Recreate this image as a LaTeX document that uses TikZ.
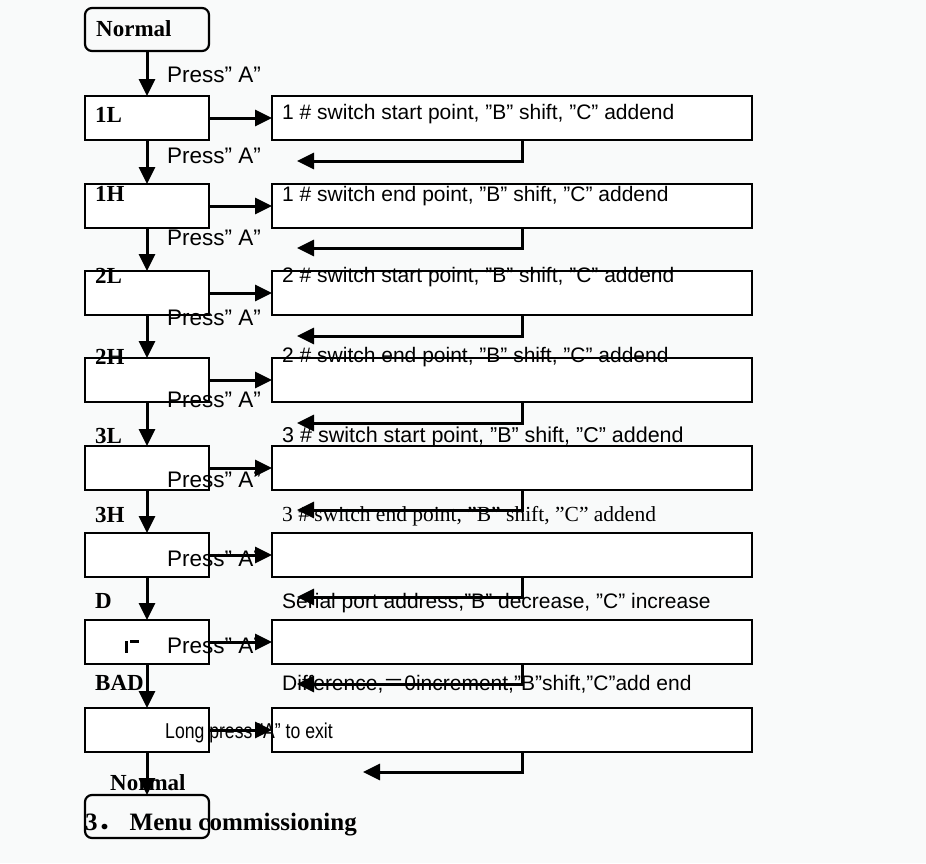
\documentclass[tikz,border=0pt]{standalone}
\usepackage{fontspec}
\setmainfont{Liberation Serif}
\newfontfamily\sansf{Liberation Sans}
\newfontfamily\sanscond[FakeStretch=0.82]{Liberation Sans}
\newfontfamily\cjkf{Noto Sans CJK SC}
\usetikzlibrary{arrows.meta,calc}
\definecolor{bg}{RGB}{249,250,250}
\tikzset{
  lbox/.style={draw, fill=white, line width=2.3pt, minimum width=124pt, minimum height=44pt, inner sep=0pt, outer sep=0pt, anchor=north west},
  rbox/.style={draw, fill=white, line width=2.5pt, minimum width=480pt, minimum height=44pt, inner sep=0pt, outer sep=0pt, anchor=north west},
  nbox/.style={draw, line width=2.2pt, rounded corners=7pt, minimum width=124pt, minimum height=43pt, inner sep=0pt, outer sep=0pt, anchor=north west},
  arr/.style={line width=3pt, -{Triangle[length=17pt,width=16pt]}},
  lab/.style={anchor=base west, inner sep=0pt, font=\bfseries\fontsize{23}{27}\selectfont},
  press/.style={anchor=base west, inner sep=0pt, font=\sansf\fontsize{22.5}{26}\selectfont},
  rtxt/.style={anchor=base west, inner sep=0pt, font=\sansf\fontsize{21}{25}\selectfont},
  stxt/.style={anchor=base west, inner sep=0pt, font=\fontsize{21.5}{25}\selectfont},
}
\begin{document}
\begin{tikzpicture}[x=1pt,y=-1pt]
\fill[bg] (0,0) rectangle (926,863);
\useasboundingbox (0,0) rectangle (926,863);

% boxes
\node[nbox] (n0) at (85,8) {};
\node[lbox] (l1) at (85,96) {};
\node[lbox] (l2) at (85,184) {};
\node[lbox] (l3) at (85,271) {};
\node[lbox] (l4) at (85,358) {};
\node[lbox] (l5) at (85,446) {};
\node[lbox] (l6) at (85,533) {};
\node[lbox] (l7) at (85,620) {};
\node[lbox] (l8) at (85,708) {};
\node[nbox] (n9) at (85,795) {};

\node[rbox] (r1) at (272,96) {};
\node[rbox] (r2) at (272,184) {};
\node[rbox] (r3) at (272,271) {};
\node[rbox] (r4) at (272,358) {};
\node[rbox] (r5) at (272,446) {};
\node[rbox] (r6) at (272,533) {};
\node[rbox] (r7) at (272,620) {};
\node[rbox] (r8) at (272,708) {};

% left labels
\node[lab] (tn0) at (96,36) {Normal};
\node[lab] (tl1) at (95,122) {1L};
\node[lab] (tl2) at (95,201) {1H};
\node[lab] (tl3) at (95,283) {2L};
\node[lab] (tl4) at (95,364) {2H};
\node[lab] (tl5) at (95,443) {3L};
\node[lab] (tl6) at (95,522) {3H};
\node[lab] (tl7) at (95,608) {D};
\node[lab] (tl8) at (95,690) {BAD};
\node[lab] (tn9) at (110,790) {Normal};

% press labels
\node[press] (p1) at (167,82) {Press” A”};
\node[press] (p2) at (167,163) {Press” A”};
\node[press] (p3) at (167,245) {Press” A”};
\node[press] (p4) at (167,325) {Press” A”};
\node[press] (p5) at (167,407) {Press” A”};
\node[press] (p6) at (167,487) {Press” A”};
\node[press] (p7) at (167,566) {Press” A”};
\node[press] (p8) at (167,653) {Press” A”};
\node[anchor=base west, inner sep=0pt, font=\sanscond\fontsize{21.5}{25}\selectfont] (p9) at (165,738) {Long press ”A” to exit};

% right texts
\node[rtxt] (s1) at (282,119) {1 \# switch start point, ”B” shift, ”C” addend};
\node[rtxt] (s2) at (282,201) {1 \# switch end point, ”B” shift, ”C” addend};
\node[rtxt] (s3) at (282,282) {2 \# switch start point, ”B” shift, ”C” addend};
\node[rtxt] (s4) at (282,362) {2 \# switch end point, ”B” shift, ”C” addend};
\node[rtxt, font=\sansf\fontsize{21.5}{25}\selectfont] (s5) at (282,442) {3 \# switch start point, ”B” shift, ”C” addend};
\node[stxt] (s6) at (282,521) {3 \# switch end point, ”B” shift, ”C” addend};
\node[rtxt] (s7) at (282,608) {Serial port address,”B” decrease, ”C” increase};
\node[rtxt] (s8) at (282,690) {Difference,{\cjkf ＝}0increment,”B”shift,”C”add end};

% small glyph in D box
\fill (125,640.5) rectangle (127.5,653);
\fill (129.5,640) rectangle (139,643);

% title
\node[anchor=base west, inner sep=0pt, font=\bfseries\fontsize{25}{30}\selectfont] (title) at (85,830) {3{\cjkf ．}\hspace{7pt}Menu commissioning};

% vertical arrows
\draw[arr] (n0.south) -- (l1.north);
\draw[arr] (l1.south) -- (l2.north);
\draw[arr] (l2.south) -- (l3.north);
\draw[arr] (l3.south) -- (l4.north);
\draw[arr] (l4.south) -- (l5.north);
\draw[arr] (l5.south) -- (l6.north);
\draw[arr] (l6.south) -- (l7.north);
\draw[arr] (l7.south) -- (l8.north);
\draw[arr] (l8.south) -- (n9.north);

% horizontal arrows
\draw[arr] (l1.east) -- (r1.west);
\draw[arr] (l2.east) -- (r2.west);
\draw[arr] (l3.east) -- (r3.west);
\draw[arr] (l4.east) -- (r4.west);
\draw[arr] (l5.east) -- (r5.west);
\draw[arr] (l6.east) -- (r6.west);
\draw[arr] (l7.east) -- (r7.west);
\draw[arr] (l8.east) -- (r8.west);

% return arrows
\coordinate (t1) at (297,161);
\coordinate (t2) at (297,248);
\coordinate (t3) at (297,336);
\coordinate (t4) at (297,423);
\coordinate (t5) at (297,510);
\coordinate (t6) at (297,597);
\coordinate (t7) at (297,684);
\coordinate (t8) at (363,772);
\draw[arr] (r1.south west) ++(250,0) |- (t1);
\draw[arr] (r2.south west) ++(250,0) |- (t2);
\draw[arr] (r3.south west) ++(250,0) |- (t3);
\draw[arr] (r4.south west) ++(250,0) |- (t4);
\draw[arr] (r5.south west) ++(250,0) |- (t5);
\draw[arr] (r6.south west) ++(250,0) |- (t6);
\draw[arr] (r7.south west) ++(250,0) |- (t7);
\draw[arr] (r8.south west) ++(250,0) |- (t8);
\end{tikzpicture}
\end{document}
